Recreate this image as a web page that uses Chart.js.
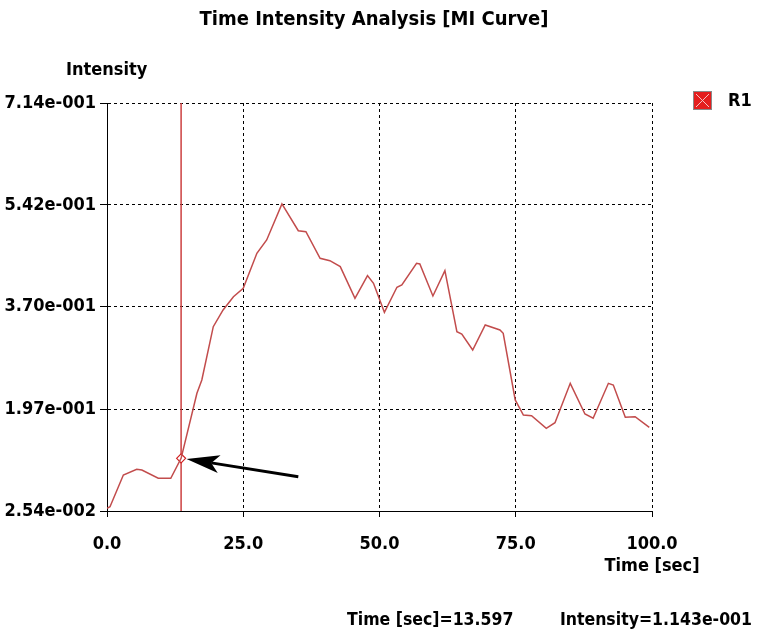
<!DOCTYPE html>
<html lang="en">
<head>
<meta charset="UTF-8">
<title>Time Intensity Analysis [MI Curve]</title>
<script src="https://cdn.jsdelivr.net/npm/chart.js@4"></script>
<style>
    html, body { margin: 0; padding: 0; background: #fff; }
    #wrap { width: 758px; height: 636px; position: relative; }
</style>
</head>
<body>
<div id="wrap"><canvas id="mi-chart" width="758" height="636"></canvas></div>

<script>
    // curve samples: time [sec] / intensity
    const times = [0, 0.55, 3.0, 5.45, 6.4, 9.4, 11.7, 13.597, 16.5, 17.4, 19.5, 21.3, 23.2, 25.0,
        27.5, 29.3, 32.1, 35.1, 36.5, 39.1, 40.9, 42.8, 45.5, 47.8, 48.9, 50.9, 53.2, 54.1,
        56.8, 57.4, 59.8, 62.0, 64.2, 65.1, 67.1, 69.4, 72.1, 72.7, 74.9, 76.4, 77.9, 80.6,
        82.2, 85.0, 87.7, 89.2, 92.0, 92.9, 95.1, 96.9, 99.5];
    const intensities = [0.0300, 0.0327, 0.0862, 0.0958, 0.0946, 0.0806, 0.0806, 0.1143, 0.2241,
        0.2465, 0.3365, 0.3647, 0.3871, 0.4013, 0.4604, 0.4828, 0.5436, 0.4985, 0.4968, 0.4520,
        0.4479, 0.4378, 0.3844, 0.4226, 0.4097, 0.3608, 0.4030, 0.4069, 0.4434, 0.4423, 0.3883,
        0.4310, 0.3280, 0.3241, 0.2971, 0.3393, 0.3309, 0.3253, 0.2128, 0.1874, 0.1863, 0.1650,
        0.1744, 0.2409, 0.1891, 0.1819, 0.2409, 0.2381, 0.1836, 0.1846, 0.1667];

    const xTicks = [0, 25, 50, 75, 100];
    const yTicks = [0.0254, 0.197, 0.370, 0.542, 0.714];

    const cursorTime = 13.597;
    const cursorIntensity = 0.1143;
    // annotation arrow, in data units (tail -> tip)
    const arrowTail = [35.1, 0.0833];
    const arrowTip = [14.6, 0.1132];

    const seriesName = 'R1';
    const curveColor = '#c24c4c';
    const FONT = "'Liberation Sans Narrow', 'DejaVu Sans Condensed', 'Liberation Sans', sans-serif";

    function sci(v, digits) {
        // 7.14e-1 -> 7.14e-001
        const [m, e] = v.toExponential(digits).split('e');
        const sign = e[0] === '-' ? '-' : '+';
        return m + 'e' + sign + e.replace(/[+-]/, '').padStart(3, '0');
    }

    const extras = {
        id: 'extras',
        beforeDatasetsDraw(chart) {
            const { ctx, chartArea, scales: { x } } = chart;
            // cursor line
            const cx = x.getPixelForValue(cursorTime);
            ctx.save();
            ctx.strokeStyle = '#cc4040';
            ctx.lineWidth = 1.5;
            ctx.beginPath();
            ctx.moveTo(cx, chartArea.top);
            ctx.lineTo(cx, chartArea.bottom);
            ctx.stroke();
            ctx.restore();
        },
        afterDraw(chart) {
            const { ctx, chartArea, scales: { x, y } } = chart;
            ctx.save();
            ctx.fillStyle = '#000';
            ctx.font = 'bold 18px ' + FONT;
            ctx.textBaseline = 'middle';
            ctx.textAlign = 'left';
            ctx.fillText('Intensity', 66, 70);
            ctx.textAlign = 'center';
            ctx.fillText('Time [sec]', chartArea.right, 566);

            // status line
            ctx.font = 'bold 17.5px ' + FONT;
            ctx.textAlign = 'left';
            ctx.fillText('Time [sec]=' + cursorTime.toFixed(3), 347, 620);
            ctx.textAlign = 'right';
            ctx.fillText('Intensity=' + sci(cursorIntensity, 3), 752, 620);

            // legend
            const lx = 693, ly = 91, ls = 19;
            ctx.fillStyle = '#e41e1e';
            ctx.fillRect(lx, ly, ls, ls);
            ctx.strokeStyle = '#8a8a8a';
            ctx.lineWidth = 1;
            ctx.strokeRect(lx + 0.5, ly + 0.5, ls - 1, ls - 1);
            ctx.strokeStyle = '#f4c4c4';
            ctx.beginPath();
            ctx.moveTo(lx + 3, ly + 3); ctx.lineTo(lx + ls - 3, ly + ls - 3);
            ctx.moveTo(lx + ls - 3, ly + 3); ctx.lineTo(lx + 3, ly + ls - 3);
            ctx.stroke();
            ctx.fillStyle = '#000';
            ctx.font = 'bold 18px ' + FONT;
            ctx.textAlign = 'left';
            ctx.fillText(seriesName, 728, 101);

            // arrow
            const tx = x.getPixelForValue(arrowTail[0]), ty = y.getPixelForValue(arrowTail[1]);
            const hx = x.getPixelForValue(arrowTip[0]), hy = y.getPixelForValue(arrowTip[1]);
            const ang = Math.atan2(hy - ty, hx - tx);
            const headLen = 33, headW = 9;
            const bx = hx - Math.cos(ang) * headLen, by = hy - Math.sin(ang) * headLen;
            ctx.strokeStyle = '#000';
            ctx.lineWidth = 3;
            ctx.beginPath();
            ctx.moveTo(tx, ty);
            ctx.lineTo(bx + Math.cos(ang) * 8, by + Math.sin(ang) * 8);
            ctx.stroke();
            ctx.fillStyle = '#000';
            ctx.beginPath();
            ctx.moveTo(hx, hy);
            ctx.lineTo(bx - Math.sin(ang) * headW, by + Math.cos(ang) * headW);
            ctx.lineTo(bx + Math.cos(ang) * 8, by + Math.sin(ang) * 8);
            ctx.lineTo(bx + Math.sin(ang) * headW, by - Math.cos(ang) * headW);
            ctx.closePath();
            ctx.fill();
            ctx.restore();
        }
    };

    const ctx = document.getElementById('mi-chart').getContext('2d');
    new Chart(ctx, {
        type: 'line',
        data: {
            datasets: [{
                label: seriesName,
                data: times.map((t, i) => ({ x: t, y: intensities[i] })),
                borderColor: curveColor,
                borderWidth: 1.5,
                pointRadius: 0,
                tension: 0
            }, {
                label: 'cursor',
                data: [{ x: cursorTime, y: cursorIntensity }],
                showLine: false,
                pointStyle: 'rectRot',
                pointRadius: 4.5,
                pointBorderWidth: 1.2,
                pointBorderColor: '#d02020',
                pointBackgroundColor: '#fff'
            }]
        },
        options: {
            responsive: false,
            animation: false,
            layout: { padding: { left: 0, right: 10, top: 0, bottom: 0 } },
            plugins: {
                legend: { display: false },
                tooltip: { enabled: false },
                title: {
                    display: true,
                    text: 'Time Intensity Analysis [MI Curve]',
                    color: '#000',
                    font: { family: FONT, size: 20, weight: 'bold' },
                    padding: { top: 8, bottom: 71 }
                }
            },
            scales: {
                x: {
                    type: 'linear',
                    min: 0,
                    max: 100,
                    afterBuildTicks: s => { s.ticks = xTicks.map(v => ({ value: v })); },
                    afterFit: s => { s.height = 125; },
                    ticks: {
                        color: '#000',
                        font: { family: FONT, size: 18, weight: 'bold' },
                        padding: 17,
                        maxRotation: 0,
                        callback: v => Number(v).toFixed(1)
                    },
                    grid: {
                        color: '#000',
                        lineWidth: 1,
                        tickLength: 6,
                        tickColor: '#000',
                        tickBorderDash: []
                    },
                    border: { display: true, color: '#000', width: 1, dash: [3, 3] }
                },
                y: {
                    type: 'linear',
                    min: yTicks[0],
                    max: yTicks[yTicks.length - 1],
                    afterBuildTicks: s => { s.ticks = yTicks.map(v => ({ value: v })); },
                    afterFit: s => { s.width = 107; },
                    ticks: {
                        color: '#000',
                        font: { family: FONT, size: 18, weight: 'bold' },
                        padding: 4,
                        callback: v => sci(v, 2)
                    },
                    grid: {
                        color: '#000',
                        lineWidth: 1,
                        tickLength: 7,
                        tickColor: '#000',
                        tickBorderDash: []
                    },
                    border: { display: true, color: '#000', width: 1, dash: [3, 3] }
                },
                // empty right-hand axis that reserves room for the legend
                yRight: {
                    type: 'linear',
                    position: 'right',
                    display: true,
                    grid: { display: false },
                    ticks: { display: false },
                    border: { display: false },
                    afterFit: s => { s.width = 96; }
                }
            }
        },
        plugins: [extras]
    });
</script>
</body>
</html>
